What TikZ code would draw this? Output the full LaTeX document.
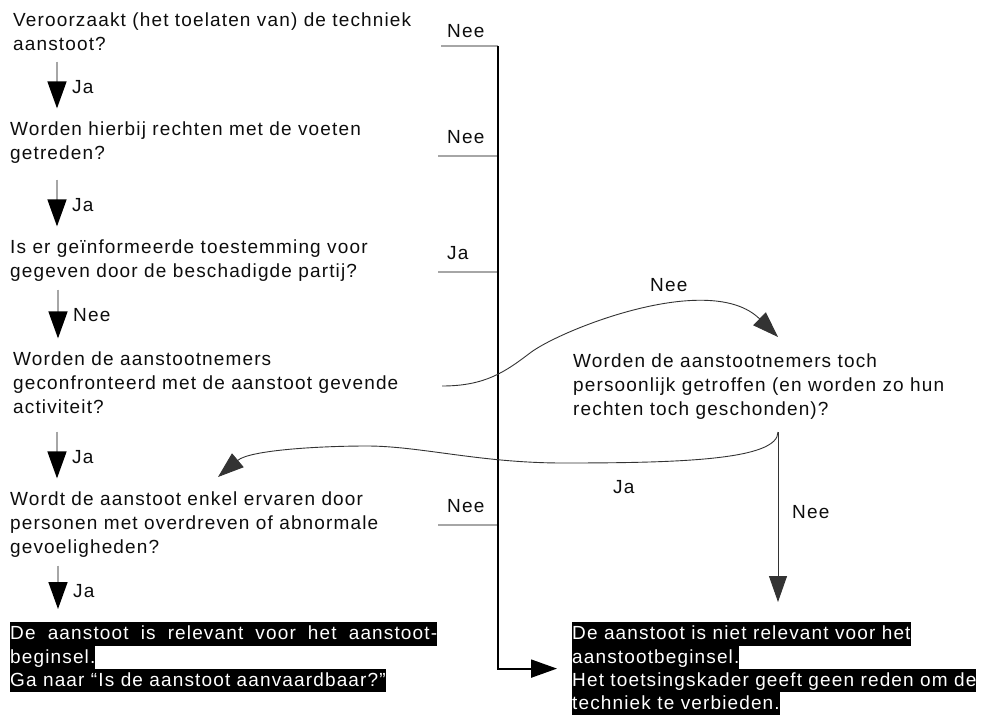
\documentclass[tikz,border=0pt]{standalone}
\usepackage{fontspec}
\setmainfont{Liberation Sans}[LetterSpace=6]
\usetikzlibrary{arrows.meta}

\begin{document}
\begin{tikzpicture}[x=1pt,y=-1pt,>={Triangle[width=18pt,length=26pt]},
                    every node/.style={inner sep=0pt,font=\fontsize{19}{24}\selectfont,text=black!95},
                    question/.style={anchor=north west,align=left},
                    yesno/.style={anchor=base west},
                    hl/.style={anchor=north west,fill=black,text=white,text height=17.5pt,text depth=5.8pt},
                    jump/.style={draw=black!35,line width=1.5pt,-{Triangle[width=19pt,length=27pt,color=black]},shorten >=13pt},
                    branch/.style={draw=black!35,line width=2pt},
                    trunk/.style={draw=black,line width=2pt,->},
                    curvearrow/.style={draw=black!80,line width=0.9pt,->}]

  \useasboundingbox (0,0) rectangle (988,715);

  \node[question] (q1) at (13,12.2) {Veroorzaakt (het toelaten van) de techniek\\aanstoot?};
  \node[question] (q2) at (10,121.4) {Worden hierbij rechten met de voeten\\getreden?};
  \node[question] (q3) at (10,239.4) {Is er geïnformeerde toestemming voor\\gegeven door de beschadigde partij?};
  \node[question] (q4) at (13,351.4) {Worden de aanstootnemers\\geconfronteerd met de aanstoot gevende\\activiteit?};
  \node[question] (q5) at (573,353.4) {Worden de aanstootnemers toch\\persoonlijk getroffen (en worden zo hun\\rechten toch geschonden)?};
  \node[question] (q6) at (10,491.4) {Wordt de aanstoot enkel ervaren door\\personen met overdreven of abnormale\\gevoeligheden?};

  \node[hl] (l1) at (10,622) {\makebox[427pt][s]{De aanstoot is relevant voor het aanstoot-}};
  \node[hl] (l2) at (10,645.3) {beginsel.};
  \node[hl] (l3) at (10,668.6) {Ga naar “Is de aanstoot aanvaardbaar?”};
  \node[hl] (r1) at (572,622) {De aanstoot is niet relevant voor het};
  \node[hl] (r2) at (572,645.3) {aanstootbeginsel.};
  \node[hl] (r3) at (572,668.6) {Het toetsingskader geeft geen reden om de};
  \node[hl] (r4) at (572,691.9) {techniek te verbieden.};

  \node[yesno] (ja1) at (72,93) {Ja};
  \node[yesno] (ja2) at (72,211) {Ja};
  \node[yesno] (nee3) at (73,321) {Nee};
  \node[yesno] (ja4) at (72,463) {Ja};
  \node[yesno] (ja5) at (73,597) {Ja};
  \node[yesno] (nee1) at (447,37) {Nee};
  \node[yesno] (nee2) at (447,143) {Nee};
  \node[yesno] (ja3) at (447,259) {Ja};
  \node[yesno] (nee4) at (447,512) {Nee};
  \node[yesno] (nee5) at (650,291) {Nee};
  \node[yesno] (ja6) at (613,493) {Ja};
  \node[yesno] (nee6) at (792,518) {Nee};

  \coordinate (t1) at (498,46);
  \coordinate (t2) at (498,156);
  \coordinate (t3) at (498,272);
  \coordinate (t4) at (498,525);
  \coordinate (q4out) at (442,386);
  \coordinate (q5in) at (778,337);
  \coordinate (q5foot) at (778,432);
  \coordinate (q6in) at (218,477);

  % left column, one question down to the next
  \foreach \l/\b in {ja1/q2,ja2/q3,nee3/q4,ja4/q6,ja5/l1}
    \draw[jump] ([shift={(-15pt,18pt)}]\l.north west) -- ([xshift=-15pt]\l.west |- \b.north);

  \foreach \t/\len in {t1/57,t2/60,t3/60,t4/60}
    \draw[branch] (\t) -- ++(-\len,0);
  \draw[trunk] (t1) |- ([xshift=-15pt]r3.north west);

  \draw[curvearrow] (q4out) .. controls (485,386) and (505,372) .. (530,353)
    .. controls (560,330) and (710,270) .. (q5in);
  \draw[curvearrow] (q5foot) .. controls (778,460) and (680,463) .. (563,463)
    .. controls (480,463) and (420,446) .. (367,446)
    .. controls (320,446) and (250,450) .. (q6in);
  \draw[curvearrow,shorten >=20pt] (q5foot) -- (q5foot |- r1.north);
\end{tikzpicture}
\end{document}
